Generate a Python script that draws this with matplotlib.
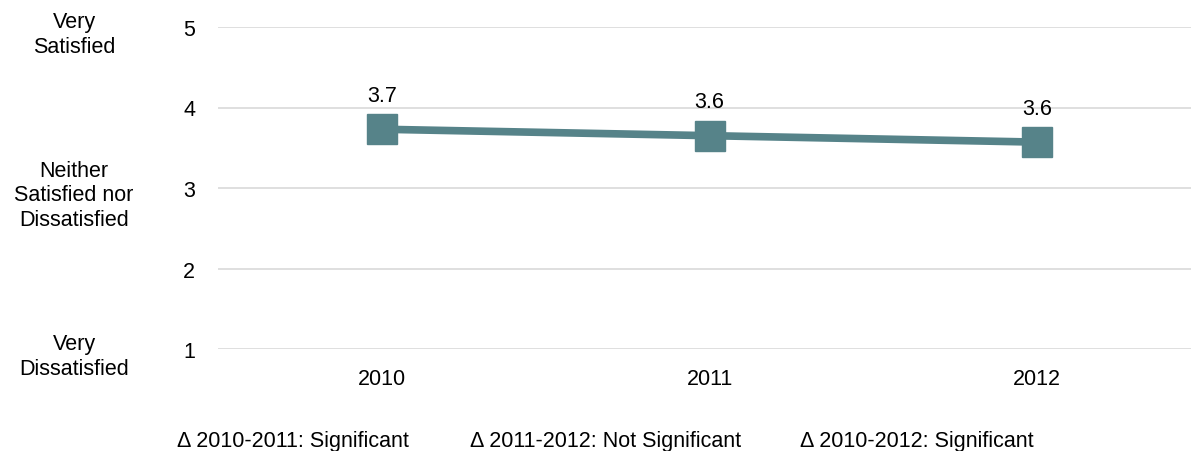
import matplotlib
matplotlib.use("Agg")
import matplotlib.pyplot as plt

plt.rcParams["font.family"] = ["Liberation Sans", "DejaVu Sans"]

years = ["2010", "2011", "2012"]
scores = [3.73, 3.65, 3.57]
y_ticks = [1, 2, 3, 4, 5]
scale_labels = ["Very\nDissatisfied", "Neither\nSatisfied nor\nDissatisfied", "Very\nSatisfied"]
scale_positions = [1, 3, 5]
notes = ["\u0394 2010-2011: Significant",
         "\u0394 2011-2012: Not Significant",
         "\u0394 2010-2012: Significant"]
note_x = [293, 606, 917]

W, H = 1191, 452
FS = 15.5
fig = plt.figure(figsize=(W / 100, H / 100), dpi=100)
ax = fig.add_axes([218 / W, (H - 350) / H, 983 / W, 322 / H])

color = "#568389"
xs = list(range(len(years)))
ax.plot(xs, scores, color=color, lw=5.5, marker="s", ms=21,
        markerfacecolor=color, markeredgecolor=color, clip_on=False, zorder=3)
for x, v in zip(xs, scores):
    ax.annotate(f"{v:.1f}", (x, v), xytext=(0, 34), textcoords="offset pixels",
                ha="center", va="center", fontsize=FS, color="#000000")

ax.set_xlim(-0.5, len(years) - 0.5)
ax.set_ylim(1, 5)
ax.set_yticks(y_ticks)
ax.set_yticklabels([str(t) for t in y_ticks])
ax.set_xticks(xs)
ax.set_xticklabels(years)
ax.tick_params(axis="both", length=0, labelsize=FS, colors="#000000")
ax.tick_params(axis="y", pad=16.5)
ax.tick_params(axis="x", pad=14)
ax.grid(axis="y", color="#D9D9D9", lw=1.2)
ax.set_axisbelow(True)
for s in ax.spines.values():
    s.set_visible(False)

# verbal anchors for the satisfaction scale
for pos, lab in zip(scale_positions, scale_labels):
    y_px = 350 - (pos - 1) * 80.5 + 7
    fig.text(74 / W, (H - y_px) / H, lab, ha="center", va="center",
             fontsize=FS, linespacing=1.2, color="#000000")

for x, t in zip(note_x, notes):
    fig.text(x / W, (H - 442) / H, t, ha="center", va="center",
             fontsize=FS, color="#000000")

fig.savefig("out.png", dpi=100)
